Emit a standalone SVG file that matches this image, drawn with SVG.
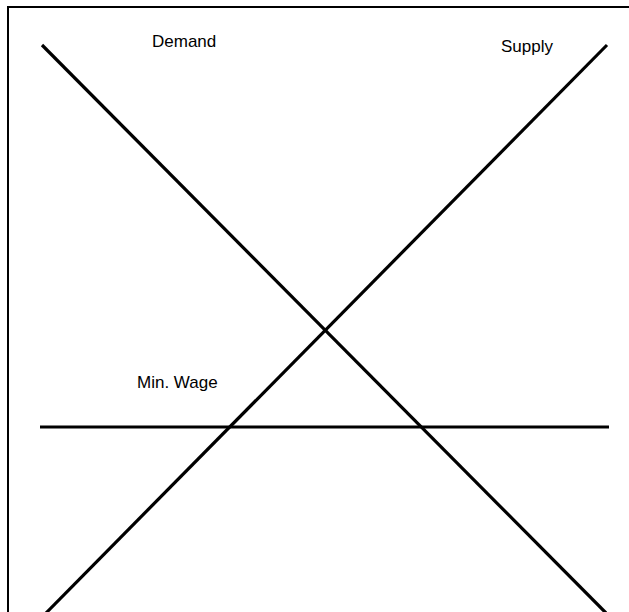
<svg xmlns="http://www.w3.org/2000/svg" width="629" height="612" viewBox="0 0 629 612">
<style>
.frame{fill:none;stroke:#000;stroke-width:2}
.curve{stroke:#000;stroke-width:3.2;fill:none}
.lbl{font-family:"Liberation Sans",Arial,sans-serif;font-size:17px;fill:#000}
</style>
<rect x="0" y="0" width="629" height="612" fill="#fff"/>
<path class="frame" d="M8 612 V7 H629"/>
<g id="connectors">
<line id="demand-line" class="curve" x1="42" y1="45" x2="606" y2="613"/>
<line id="supply-line" class="curve" x1="46" y1="613" x2="607" y2="45"/>
<line id="minwage-line" class="curve" x1="40" y1="427" x2="609" y2="427"/>
</g>
<g id="demand"><text class="lbl" x="152" y="47">Demand</text></g>
<g id="supply"><text class="lbl" x="501" y="52">Supply</text></g>
<g id="minwage"><text class="lbl" x="137" y="388">Min. Wage</text></g>
</svg>
